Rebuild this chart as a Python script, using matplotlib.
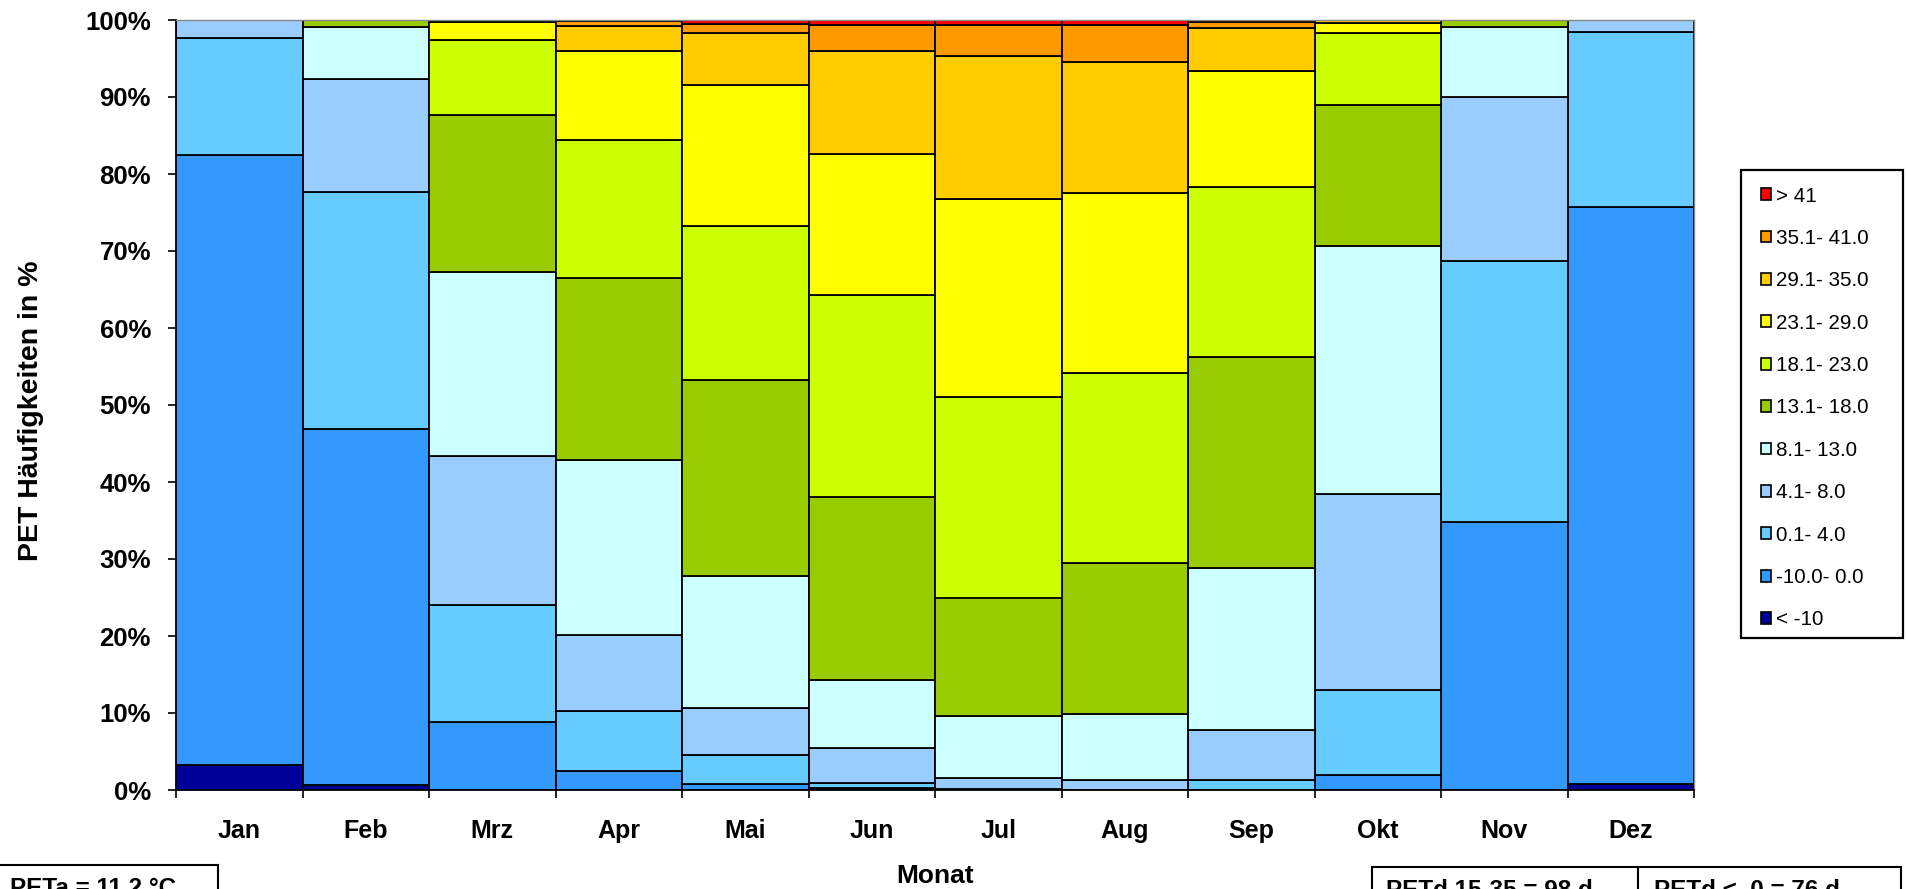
import matplotlib
matplotlib.use("Agg")
import matplotlib.pyplot as plt
from matplotlib.patches import Patch, Rectangle
import numpy as np

months = ["Jan", "Feb", "Mrz", "Apr", "Mai", "Jun", "Jul", "Aug", "Sep", "Okt", "Nov", "Dez"]
legend_labels = ["< -10", "-10.0- 0.0", "0.1- 4.0", "4.1- 8.0", "8.1- 13.0", "13.1- 18.0",
                 "18.1- 23.0", "23.1- 29.0", "29.1- 35.0", "35.1- 41.0", "> 41"]
colors = ["#000099", "#3399FF", "#66CCFF", "#99CCFF", "#CCFFFF", "#99CC00",
          "#CCFF00", "#FFFF00", "#FFCC00", "#FF9900", "#FF0000"]

# percentages per PET class (rows) for each month (columns)
lt_m10   = [3.2, 0.6, 0.0, 0.0, 0.0, 0.0, 0.0, 0.0, 0.0, 0.0, 0.0, 0.8]
m10_0    = [79.3, 46.3, 8.8, 2.5, 0.8, 0.2, 0.0, 0.0, 0.0, 1.9, 34.8, 74.9]
c01_4    = [15.2, 30.8, 15.2, 7.7, 3.8, 0.7, 0.1, 0.0, 1.3, 11.1, 33.9, 22.8]
c41_8    = [2.3, 14.7, 19.4, 9.9, 6.1, 4.6, 1.5, 1.3, 6.5, 25.4, 21.3, 1.5]
c81_13   = [0.0, 6.7, 23.9, 22.8, 17.1, 8.8, 8.0, 8.6, 21.0, 32.2, 9.1, 0.0]
c131_18  = [0.0, 0.9, 20.4, 23.6, 25.5, 23.7, 15.4, 19.6, 27.4, 18.4, 0.9, 0.0]
c181_23  = [0.0, 0.0, 9.7, 17.9, 19.9, 26.3, 26.0, 24.7, 22.1, 9.3, 0.0, 0.0]
c231_29  = [0.0, 0.0, 2.3, 11.6, 18.4, 18.3, 25.8, 23.3, 15.1, 1.3, 0.0, 0.0]
c291_35  = [0.0, 0.0, 0.2, 3.2, 6.7, 13.4, 18.5, 17.0, 5.5, 0.4, 0.0, 0.0]
c351_41  = [0.0, 0.0, 0.1, 0.7, 1.2, 3.3, 4.1, 4.9, 0.9, 0.0, 0.0, 0.0]
gt_41    = [0.0, 0.0, 0.0, 0.1, 0.5, 0.7, 0.6, 0.6, 0.2, 0.0, 0.0, 0.0]
series = [lt_m10, m10_0, c01_4, c41_8, c81_13, c131_18, c181_23, c231_29, c291_35, c351_41, gt_41]

W, H = 1907, 889
fig = plt.figure(figsize=(W / 100, H / 100), dpi=100)
ax = fig.add_axes([176 / W, 1 - 790 / H, (1694 - 176) / W, (790 - 20) / H])

font = "Liberation Sans"
x = np.arange(len(months))
bottom = np.zeros(len(months))
for vals, col in zip(series, colors):
    v = np.array(vals, dtype=float)
    ax.bar(x, v, bottom=bottom, width=1.0, color=col, edgecolor="black", linewidth=1.3, zorder=2)
    bottom += v

ax.set_xlim(-0.5, 11.5)
ax.set_ylim(0, 100)
ax.set_yticks(np.arange(0, 101, 10))
ax.set_yticklabels([f"{v}%" for v in range(0, 101, 10)], fontfamily=font, fontweight="bold", fontsize=18.5)
ax.tick_params(axis="y", direction="out", length=6, width=1.2, pad=12)

ax.set_xticks(np.arange(-0.5, 12, 1.0))
ax.set_xticklabels([])
ax.tick_params(axis="x", which="major", direction="out", length=6, width=1.2)
ax.set_xticks(x, minor=True)
ax.set_xticklabels(months, minor=True, fontfamily=font, fontweight="bold", fontsize=18)
ax.tick_params(axis="x", which="minor", length=0, pad=21)

for s in ["top", "right"]:
    ax.spines[s].set_color("#888888")
    ax.spines[s].set_linewidth(1.0)
for s in ["left", "bottom"]:
    ax.spines[s].set_color("black")
    ax.spines[s].set_linewidth(1.3)

fig.text(31 / W, 1 - 411 / H, "PET Häufigkeiten in %", rotation=90, ha="center", va="center",
         fontfamily=font, fontweight="bold", fontsize=20.5)
fig.text(935 / W, 1 - 876 / H, "Monat", ha="center", va="center",
         fontfamily=font, fontweight="bold", fontsize=19)

# legend with manual frame
fig.patches.append(Rectangle((1741 / W, 1 - 638 / H), (1903 - 1741) / W, (638 - 170) / H,
                             transform=fig.transFigure, facecolor="white", edgecolor="black",
                             linewidth=1.6, figure=fig, zorder=1))
handles = [Patch(facecolor=c, edgecolor="black", linewidth=1.2) for c in colors][::-1]
leg = fig.legend(handles, legend_labels[::-1], loc="upper left",
                 bbox_to_anchor=(1744 / W, 1 - 170 / H), frameon=False,
                 prop={"family": font, "size": 14.9}, handlelength=0.5, handleheight=0.5,
                 handletextpad=0.25, labelspacing=1.13, borderpad=0.8, borderaxespad=0)

# info boxes at the bottom (cut by the figure edge, as in the original)
fig.patches.append(Rectangle((-0.002, -0.05), 222 / W, 0.05 + 1 - 865 / H, transform=fig.transFigure,
                             facecolor="white", edgecolor="black", linewidth=1.5, figure=fig))
fig.patches.append(Rectangle((1372 / W, -0.05), (1638 - 1372) / W, 0.05 + 1 - 867 / H, transform=fig.transFigure,
                             facecolor="white", edgecolor="black", linewidth=1.5, figure=fig))
fig.patches.append(Rectangle((1638 / W, -0.05), (1901 - 1638) / W, 0.05 + 1 - 867 / H, transform=fig.transFigure,
                             facecolor="white", edgecolor="black", linewidth=1.5, figure=fig))
fig.text(10 / W, 1 - 877 / H, "PETa = 11.2 °C", ha="left", va="top",
         fontfamily=font, fontweight="bold", fontsize=17.5)
fig.text(1386 / W, 1 - 879 / H, "PETd 15-35 = 98 d", ha="left", va="top",
         fontfamily=font, fontweight="bold", fontsize=17.5)
fig.text(1654 / W, 1 - 879 / H, "PETd <  0 = 76 d", ha="left", va="top",
         fontfamily=font, fontweight="bold", fontsize=17.5)

fig.savefig("out.png", dpi=100)
